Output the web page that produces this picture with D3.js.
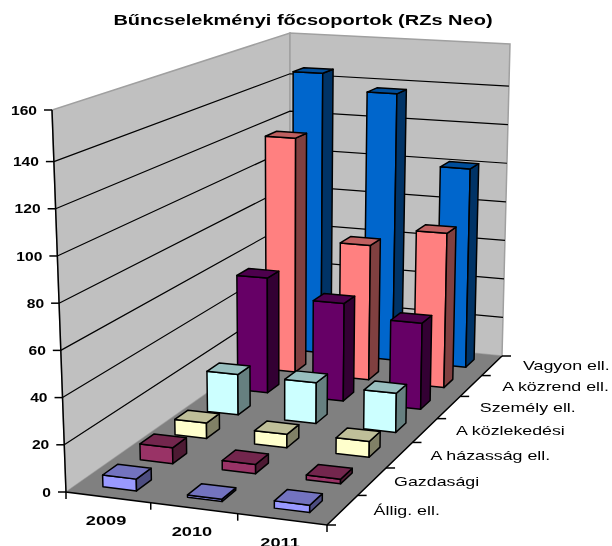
<!DOCTYPE html>
<html>
<head>
<meta charset="utf-8">
<script src="https://cdn.jsdelivr.net/npm/d3@7"></script>
<style>
  html, body { margin: 0; padding: 0; background: #fff; overflow: hidden; }
  svg { display: block; filter: blur(0.4px); }
  text { font-family: "Liberation Sans", Arial, sans-serif; fill: #000; }
</style>
</head>
<body>
<svg width="612" height="546"></svg>
<script>
var title = "Bűncselekményi főcsoportok (RZs Neo)";
var years = ["2009", "2010", "2011"];
// front to back, same order as the depth axis
var categories = ["Állig. ell.", "Gazdasági", "A házasság ell.", "A közlekedési", "Személy ell.", "A közrend ell.", "Vagyon ell."];

var allig = [5, 1, 3];
var gazdasagi = [7, 4, 2];
var hazassag = [7, 6, 7];
var kozlekedesi = [19, 19, 18];
var szemely = [56, 47, 41];
var kozrend = [118, 67, 76];
var vagyon = [145, 137, 101];
var series = [allig, gazdasagi, hazassag, kozlekedesi, szemely, kozrend, vagyon];

var frontColors = ["#9999ff", "#993366", "#ffffcc", "#ccffff", "#660066", "#ff8080", "#0066cc"];

var svg = d3.select("svg");

// floor and ceiling of the chart box, corners in the order
// front left, front right, back right, back left
var floorQuad = [[66, 492], [327, 525], [502, 356], [290, 335]];
var topQuad = [[52, 110], [330, 125], [510, 44], [290, 33]];

function quadMap(q) {
  var dx1 = q[1][0] - q[2][0], dx2 = q[3][0] - q[2][0], sx = q[0][0] - q[1][0] + q[2][0] - q[3][0];
  var dy1 = q[1][1] - q[2][1], dy2 = q[3][1] - q[2][1], sy = q[0][1] - q[1][1] + q[2][1] - q[3][1];
  var den = dx1 * dy2 - dx2 * dy1;
  var g = (sx * dy2 - dx2 * sy) / den, h = (dx1 * sy - sx * dy1) / den;
  var a = q[1][0] - q[0][0] + g * q[1][0], b = q[3][0] - q[0][0] + h * q[3][0];
  var d = q[1][1] - q[0][1] + g * q[1][1], e = q[3][1] - q[0][1] + h * q[3][1];
  return function (u, v) {
    var w = g * u + h * v + 1;
    return [(a * u + b * v + q[0][0]) / w, (d * u + e * v + q[0][1]) / w];
  };
}

var floorAt = quadMap(floorQuad), topAt = quadMap(topQuad);

// the top interval of the picture's axis is drawn a little taller
var zScale = d3.scaleLinear().domain([0, 140, 160]).range([0, 0.865, 1]);
var xScale = d3.scaleBand().domain(years).range([0, 1]).paddingInner(0.6).paddingOuter(0.3);
var yScale = d3.scaleBand().domain(categories).range([0, 1]).paddingInner(0.6).paddingOuter(0.3);

// u along the years, v into the depth, value up
function project(u, v, value) {
  var p0 = floorAt(u, v), p1 = topAt(u, v), t = zScale(value);
  return [p0[0] + (p1[0] - p0[0]) * t, p0[1] + (p1[1] - p0[1]) * t];
}

var line = d3.line();
function poly(pts) { return line(pts) + "Z"; }

// walls and floor
svg.append("path").attr("fill", "#c0c0c0").attr("stroke", "#a0a0a0").attr("stroke-width", 1.5)
  .attr("d", poly([project(0, 0, 0), project(0, 0, 160), project(0, 1, 160), project(0, 1, 0)]));
svg.append("path").attr("fill", "#c0c0c0").attr("stroke", "#a0a0a0").attr("stroke-width", 1.5)
  .attr("d", poly([project(0, 1, 0), project(0, 1, 160), project(1, 1, 160), project(1, 1, 0)]));
svg.append("path").attr("fill", "#808080")
  .attr("d", poly([project(0, 0, 0), project(1, 0, 0), project(1, 1, 0), project(0, 1, 0)]));

// gridlines
var gridValues = d3.range(0, 161, 20);
svg.append("g").selectAll("path")
  .data(gridValues.filter(d => d > 0 && d < 160))
  .enter().append("path")
  .attr("fill", "none")
  .attr("stroke", "#000")
  .attr("stroke-width", 1.2)
  .attr("d", d => line([project(0, 0, d), project(0, 1, d), project(1, 1, d)]));

// axis lines
svg.append("path").attr("fill", "none").attr("stroke", "#000").attr("stroke-width", 1.5)
  .attr("d", line([project(0, 0, 160), project(0, 0, 0), project(1, 0, 0), project(1, 1, 0)]));

// value axis
var valueAxis = svg.append("g").selectAll("g").data(gridValues).enter().append("g");
valueAxis.append("line")
  .attr("stroke", "#000").attr("stroke-width", 1.5)
  .attr("x1", d => project(0, 0, d)[0] - 8).attr("x2", d => project(0, 0, d)[0])
  .attr("y1", d => project(0, 0, d)[1]).attr("y2", d => project(0, 0, d)[1]);
valueAxis.append("text")
  .attr("text-anchor", "end")
  .attr("font-weight", "bold")
  .attr("font-size", 13)
  .attr("dy", "0.36em")
  .attr("transform", d => {
    var p = project(0, 0, d);
    return `translate(${p[0] - 15},${p[1]}) scale(1.2,1)`;
  })
  .text(d => d);

// year axis
svg.append("g").selectAll("line")
  .data(d3.range(years.length + 1))
  .enter().append("line")
  .attr("stroke", "#000").attr("stroke-width", 1.5)
  .attr("x1", d => floorAt(d / years.length, 0)[0]).attr("x2", d => floorAt(d / years.length, 0)[0])
  .attr("y1", d => floorAt(d / years.length, 0)[1]).attr("y2", d => floorAt(d / years.length, 0)[1] + 7);
svg.append("g").selectAll("text")
  .data(years)
  .enter().append("text")
  .attr("text-anchor", "middle")
  .attr("font-weight", "bold")
  .attr("font-size", 13)
  .attr("dy", "0.36em")
  .attr("transform", d => {
    var p = floorAt(xScale(d) + xScale.bandwidth() / 2, 0);
    return `translate(${p[0] - 2},${p[1] + 23}) scale(1.4,1)`;
  })
  .text(d => d);

// category axis
svg.append("g").selectAll("line")
  .data(d3.range(categories.length + 1))
  .enter().append("line")
  .attr("stroke", "#000").attr("stroke-width", 1.5)
  .attr("x1", d => floorAt(1, d / categories.length)[0]).attr("x2", d => floorAt(1, d / categories.length)[0] + 9)
  .attr("y1", d => floorAt(1, d / categories.length)[1]).attr("y2", d => floorAt(1, d / categories.length)[1]);
svg.append("g").selectAll("text")
  .data(categories)
  .enter().append("text")
  .attr("font-size", 13)
  .attr("dy", "0.36em")
  .attr("transform", d => {
    var p = floorAt(1, yScale(d) + yScale.bandwidth() / 2);
    var nudge = d == "Gazdasági" ? -9 : 0;
    return `translate(${p[0] + 31 + nudge},${p[1]}) scale(1.37,1)`;
  })
  .text(d => d);

// bars, back row first and left to right inside a row
var bars = [];
categories.forEach((c, i) => {
  years.forEach((y, j) => {
    bars.push({ category: c, year: y, value: series[i][j], color: frontColors[i], row: i, col: j });
  });
});
bars.sort((a, b) => b.row - a.row || a.col - b.col);

function faces(d) {
  var u0 = xScale(d.year), u1 = u0 + xScale.bandwidth();
  var v0 = yScale(d.category), v1 = v0 + yScale.bandwidth();
  var base = d3.rgb(d.color);
  return [
    { fill: base, pts: [project(u0, v0, 0), project(u1, v0, 0), project(u1, v0, d.value), project(u0, v0, d.value)] },
    { fill: d3.rgb(base.r * 0.5, base.g * 0.5, base.b * 0.5), pts: [project(u1, v0, 0), project(u1, v1, 0), project(u1, v1, d.value), project(u1, v0, d.value)] },
    { fill: d3.rgb(base.r * 0.75, base.g * 0.75, base.b * 0.75), pts: [project(u0, v0, d.value), project(u1, v0, d.value), project(u1, v1, d.value), project(u0, v1, d.value)] }
  ];
}

svg.append("g").selectAll("g")
  .data(bars)
  .enter().append("g")
  .selectAll("path")
  .data(faces)
  .enter().append("path")
  .attr("fill", d => d.fill)
  .attr("stroke", "#000")
  .attr("stroke-width", 1.5)
  .attr("stroke-linejoin", "round")
  .attr("d", d => poly(d.pts));

// title, stretched like the picture
svg.append("text")
  .attr("text-anchor", "middle")
  .attr("font-weight", "bold")
  .attr("font-size", 14)
  .attr("transform", "translate(303,25) scale(1.43,1)")
  .text(title);
</script>
</body>
</html>
